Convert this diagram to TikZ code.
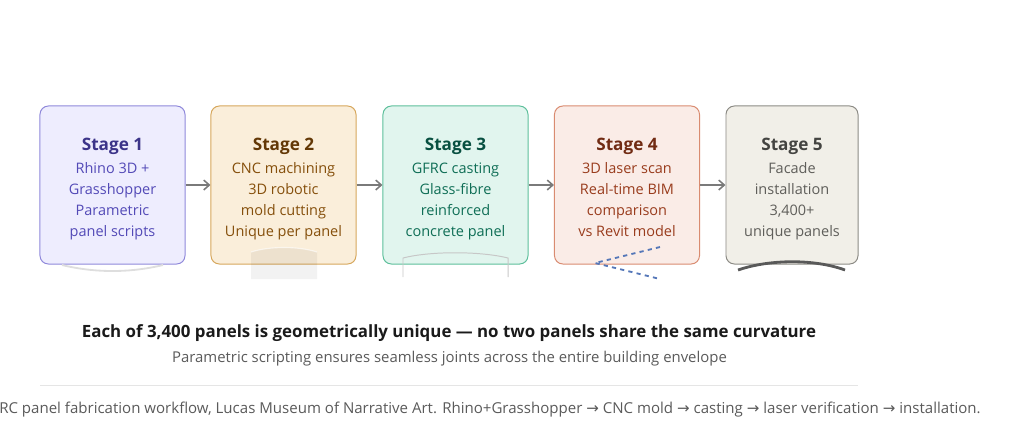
\documentclass[tikz,border=0pt]{standalone}
\usepackage{fontspec}
\setmainfont{Open Sans}
\newfontfamily\symfont{DejaVu Sans}
\usepackage{tikz}
\usetikzlibrary{arrows.meta,positioning}
\usepackage{xcolor}
\definecolor{lavfill}{HTML}{EEEDFE}
\definecolor{lavdraw}{HTML}{8F88DA}
\definecolor{lavhead}{HTML}{3C3489}
\definecolor{lavtext}{HTML}{534AB7}
\definecolor{ambfill}{HTML}{FAEEDA}
\definecolor{ambdraw}{HTML}{D6A75C}
\definecolor{ambhead}{HTML}{633806}
\definecolor{ambtext}{HTML}{854F0B}
\definecolor{tealfill}{HTML}{E1F5EE}
\definecolor{tealdraw}{HTML}{5DBF9B}
\definecolor{tealhead}{HTML}{085041}
\definecolor{tealtext}{HTML}{0F6E56}
\definecolor{corfill}{HTML}{FAECE7}
\definecolor{cordraw}{HTML}{D98B70}
\definecolor{corhead}{HTML}{712B13}
\definecolor{cortext}{HTML}{993C1D}
\definecolor{grayfill}{HTML}{F1EFE8}
\definecolor{graydraw}{HTML}{8C8B85}
\definecolor{grayhead}{HTML}{444441}
\definecolor{graytext}{HTML}{5F5E5A}
\definecolor{arrgray}{HTML}{7A7A7A}
\definecolor{scanblue}{HTML}{5577B8}
\definecolor{darktext}{HTML}{1A1A1A}
\definecolor{subgray}{HTML}{5A5A5A}
\newcommand{\sthead}[2]{{\color{#1}\fontsize{12.2}{17}\selectfont\bfseries\rule{0pt}{17pt}#2}}
\newcommand{\rarr}{{\symfont →}}

\begin{document}
\begin{tikzpicture}[
    x=0.025cm, y=-0.025cm,
    stage/.style={draw=#1draw, fill=#1fill, text=#1text, rounded corners=6pt,
                  line width=0.7pt, minimum width=3.625cm, minimum height=3.95cm,
                  align=center, font=\fontsize{10.3}{14.9}\selectfont, inner sep=0pt},
    arr/.style={-{Straight Barb[length=4pt,width=7pt]}, line width=1.1pt, arrgray},
    lbl/.style={font=\fontsize{10.6}{12}\selectfont, subgray}
  ]
    \useasboundingbox (0,0) rectangle (1024,430);

    % --- stage boxes ---
    \node[stage=lav] (s1) at (112.5,185)
      {\sthead{lavhead}{Stage 1}\\[1.5pt]Rhino 3D +\\Grasshopper\\Parametric\\panel scripts\strut};
    \node[stage=amb] (s2) at (283.5,185)
      {\sthead{ambhead}{Stage 2}\\[1.5pt]CNC machining\\3D robotic\\mold cutting\\Unique per panel\strut};
    \node[stage=teal] (s3) at (455.5,185)
      {\sthead{tealhead}{Stage 3}\\[1.5pt]GFRC casting\\Glass-fibre\\reinforced\\concrete panel\strut};
    \node[stage=cor] (s4) at (627,185)
      {\sthead{corhead}{Stage 4}\\[1.5pt]3D laser scan\\Real-time BIM\\comparison\\vs Revit model\strut};
    \node[stage=gray, minimum width=3.3cm] (s5) at (792,185)
      {\sthead{grayhead}{Stage 5}\\[1.5pt]Facade\\installation\\3,400+\\unique panels\strut};

    \draw[arr] (s1) -- (s2);
    \draw[arr] (s2) -- (s3);
    \draw[arr] (s3) -- (s4);
    \draw[arr] (s4) -- (s5);

    % --- little sketches under the boxes ---
    \draw[black!13, line width=1.3pt] (62,265) .. controls (95,273) and (130,273) .. (163,265);
    \fill[black, fill opacity=0.05] (251,252) .. controls (270,246) and (298,246) .. (317,252)
      -- (317,279) -- (251,279) -- cycle;
    \draw[white, opacity=0.6, line width=0.8pt] (251,252) .. controls (270,246) and (298,246) .. (317,252);
    \draw[black!22, line width=0.7pt] (403,277) -- (403,258)
      .. controls (430,251) and (480,251) .. (508,258) -- (508,277);
    \draw[scanblue, dashed, line width=1.3pt] (660,247) -- (595,263) -- (660,279);
    \draw[black!65, line width=2pt] (738,270) .. controls (770,259) and (815,259) .. (845,270);

    % --- notes ---
    \node[font=\fontsize{12}{14}\selectfont\bfseries, darktext] (head) at (449,333)
      {Each of 3,400 panels is geometrically unique — no two panels share the same curvature};
    \node[lbl] (sub) at (449.5,359)
      {Parametric scripting ensures seamless joints across the entire building envelope};
    \draw[black!10, line width=0.7pt] (40,385) -- (858,385);
    \node[lbl, font=\fontsize{10.7}{12}\selectfont, anchor=east, inner sep=0pt] (cap) at (981,410)
      {GFRC panel fabrication workflow, Lucas Museum of Narrative Art. Rhino+Grasshopper \rarr{} CNC mold \rarr{} casting \rarr{} laser verification \rarr{} installation.};
  \end{tikzpicture}
\end{document}
